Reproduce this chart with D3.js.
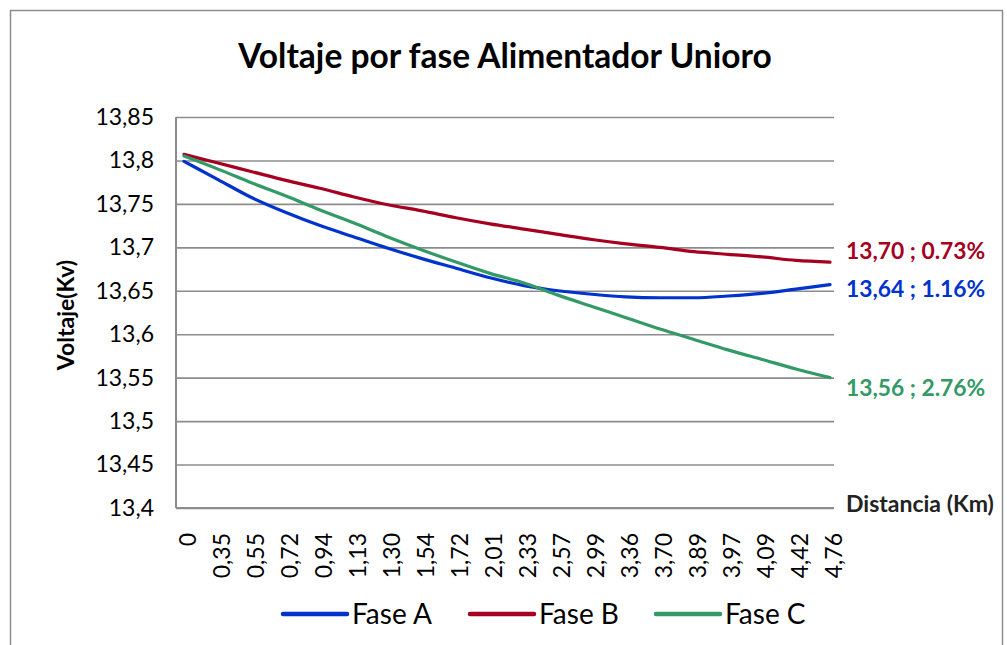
<!DOCTYPE html>
<html>
<head>
<meta charset="utf-8">
<script src="https://cdn.jsdelivr.net/npm/d3@7"></script>
<style>
  html, body { margin: 0; padding: 0; background: #fff; }
  text { font-family: Lato, "Open Sans", sans-serif; }
</style>
</head>
<body>
<script>
// distancias (km) mostradas en el eje x
var distancias = ["0","0,35","0,55","0,72","0,94","1,13","1,30","1,54","1,72","2,01",
                  "2,33","2,57","2,99","3,36","3,70","3,89","3,97","4,09","4,42","4,76"];

// voltaje por fase (kV)
var faseA = [13.799,13.778,13.757,13.740,13.725,13.712,13.699,13.687,13.676,13.665,
             13.656,13.650,13.646,13.643,13.642,13.642,13.644,13.647,13.652,13.657];
var faseB = [13.807,13.797,13.787,13.777,13.768,13.758,13.749,13.742,13.734,13.727,
             13.721,13.715,13.709,13.704,13.700,13.695,13.692,13.689,13.685,13.683];
var faseC = [13.805,13.790,13.774,13.759,13.743,13.728,13.712,13.697,13.683,13.670,
             13.659,13.645,13.632,13.619,13.606,13.594,13.582,13.571,13.560,13.550];

var yTicks = [13.4,13.45,13.5,13.55,13.6,13.65,13.7,13.75,13.8,13.85];

var series = [
  { name: "Fase A", values: faseA, color: "#0033cc", label: "13,64 ; 1.16%" },
  { name: "Fase B", values: faseB, color: "#a50021", label: "13,70 ; 0.73%" },
  { name: "Fase C", values: faseC, color: "#339966", label: "13,56 ; 2.76%" }
];

var W = 1007, H = 645,
    pLeft = 176, pRight = 834, pTop = 117, pBottom = 508;

var svg = d3.select("body").append("svg").attr("width", W).attr("height", H);

// marco del area del grafico
svg.append("rect").attr("x", 10.5).attr("y", 10.5).attr("width", 992).attr("height", 640)
   .attr("fill", "#fff").attr("stroke", "#8c8c8c").attr("stroke-width", 1.5);

var x = d3.scalePoint().domain(distancias).range([184, 830]);
var y = d3.scaleLinear().domain([13.4, 13.85]).range([pBottom, pTop]);

// titulo
svg.append("text").attr("x", 505).attr("y", 68).attr("text-anchor", "middle")
   .attr("font-size", 33.5).attr("font-weight", "bold").attr("fill", "#000")
   .text("Voltaje por fase Alimentador Unioro");

// rejilla + eje y
var gy = svg.append("g").attr("transform", "translate(" + pLeft + ",0)")
  .call(d3.axisLeft(y).tickValues(yTicks).tickSizeInner(-(pRight - pLeft)).tickSizeOuter(0)
        .tickPadding(22).tickFormat(function(d){ return String(+d.toFixed(2)).replace(".", ","); }));
gy.select(".domain").remove();
gy.selectAll(".tick line").attr("stroke", "#8c8c8c").attr("stroke-width", 1.6);
gy.selectAll(".tick text").attr("font-size", 23).attr("fill", "#000")
  .attr("font-family", "Lato, sans-serif");

svg.append("line").attr("x1", pLeft).attr("x2", pLeft).attr("y1", pTop).attr("y2", pBottom)
   .attr("stroke", "#8c8c8c").attr("stroke-width", 2);

// eje x
var gx = svg.append("g").attr("transform", "translate(0," + pBottom + ")")
  .call(d3.axisBottom(x).tickSize(0).tickPadding(0));
gx.select(".domain").attr("d", "M" + pLeft + ",0H" + pRight)
  .attr("stroke", "#8c8c8c").attr("stroke-width", 2);
gx.selectAll(".tick text")
  .attr("font-size", 23).attr("fill", "#000").attr("font-family", "Lato, sans-serif")
  .attr("text-anchor", "end")
  .attr("transform", "translate(3,25) rotate(-90)")
  .attr("x", 0).attr("y", 0).attr("dy", "0.36em");

// titulos de ejes
svg.append("text").attr("transform", "translate(66,315) rotate(-90)")
   .attr("text-anchor", "middle").attr("dy", "0.36em").attr("font-size", 23).attr("font-weight", "bold")
   .text("Voltaje(Kv)");
svg.append("text").attr("x", 846).attr("y", 504).attr("dy", "0.36em").attr("font-size", 23)
   .attr("font-weight", "bold").attr("fill", "#222").text("Distancia (Km)");

// lineas
var line = d3.line()
  .x(function(d, i){ return x(distancias[i]); })
  .y(function(d){ return y(d); })
  .curve(d3.curveMonotoneX);

svg.selectAll("path.serie").data(series).enter().append("path")
  .attr("class", "serie")
  .attr("d", function(s){ return line(s.values); })
  .attr("fill", "none").attr("stroke", function(s){ return s.color; })
  .attr("stroke-width", 3.2).attr("stroke-linecap", "round").attr("stroke-linejoin", "round");

// etiquetas al final de cada serie
var labelY = { "Fase A": 289, "Fase B": 251, "Fase C": 388 };
svg.selectAll("text.etq").data(series).enter().append("text")
  .attr("class", "etq")
  .attr("x", 846).attr("y", function(s){ return labelY[s.name]; }).attr("dy", "0.36em")
  .attr("font-size", 22.8).attr("font-weight", "bold")
  .attr("fill", function(s){ return s.color; })
  .text(function(s){ return s.label; });

// leyenda
var legX = [283, 470, 656];
var leg = svg.selectAll("g.leg").data(series).enter().append("g")
  .attr("class", "leg").attr("transform", function(s, i){ return "translate(" + legX[i] + ",614)"; });
leg.append("line").attr("x1", 0).attr("x2", 64).attr("y1", 0).attr("y2", 0)
  .attr("stroke", function(s){ return s.color; }).attr("stroke-width", 4.5)
  .attr("stroke-linecap", "round");
leg.append("text").attr("x", 69).attr("y", 0).attr("dy", "0.36em")
  .attr("font-size", 28).attr("fill", "#000").text(function(s){ return s.name; });
</script>
</body>
</html>
